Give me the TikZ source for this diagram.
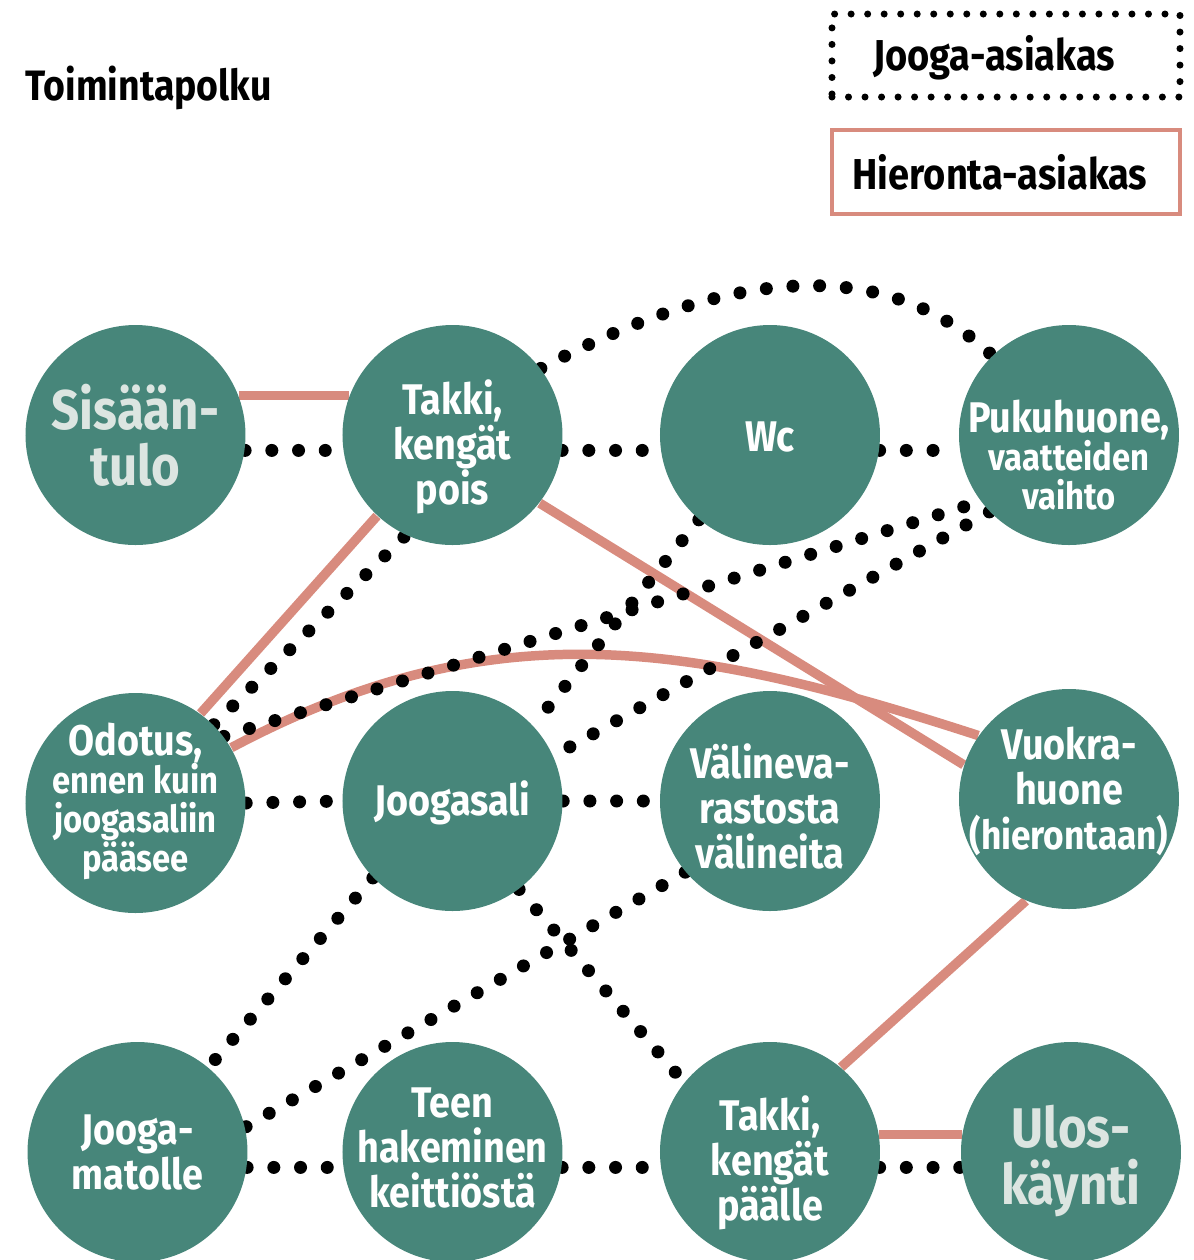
\documentclass[tikz,border=0pt]{standalone}
\usepackage{fontspec}
\setmainfont{Fira Sans}[FakeStretch=0.88]
\usetikzlibrary{backgrounds}

\newcommand{\smalltxt}{\fontsize{10.6}{11}\selectfont}

\begin{document}
\begin{tikzpicture}[
        place/.style={circle, fill=placecolor, minimum size=2.2cm, inner sep=0pt},
        placetext/.style={text=white, align=center, inner sep=0pt,
            font=\bfseries\fontsize{12.2}{12.8}\selectfont},
        tighttext/.style={placetext, font=\bfseries\fontsize{12.2}{11}\selectfont},
        bigtext/.style={placetext, text=palecolor, font=\bfseries\fontsize{15.9}{16}\selectfont},
        keytext/.style={inner sep=0pt, font=\bfseries\fontsize{12.3}{12.5}\selectfont},
        jooga/.style={line width=3.7pt, dash pattern=on 0pt off 7.6pt, line cap=round},
        hieronta/.style={line width=2.7pt, draw=salmoncolor},
    ]
    \definecolor{placecolor}{HTML}{47867A}
    \definecolor{salmoncolor}{HTML}{D88B7E}
    \definecolor{palecolor}{HTML}{DCE5E1}

    \useasboundingbox (0,0) rectangle (11.94,-12.60);

    % --- Title & legend ---
    \node[anchor=base west, inner sep=0pt, font=\bfseries\fontsize{12.1}{12}\selectfont] (title) at (0.25,-1.0) {Toimintapolku};
    \node[draw, line width=2pt, dash pattern=on 0pt off 4.7pt, line cap=round,
        minimum width=3.48cm, minimum height=0.83cm,
        label={[keytext, xshift=-0.12cm, yshift=-0.02cm]center:Jooga-asiakas}] (joogakey) at (10.06,-0.555) {};
    \node[draw=salmoncolor, line width=1.4pt, minimum width=3.48cm, minimum height=0.84cm,
        label={[keytext, xshift=-0.06cm]center:Hieronta-asiakas}] (hierontakey) at (10.06,-1.72) {};

    % --- Places (row 1) ---
    \node[place, label={[bigtext]center:{Sisään-\\tulo}}] (sis) at (1.355,-4.35) {};
    \node[place, label={[placetext, yshift=-0.12cm]center:{Takki,\\kengät\\pois}}] (takkipois) at (4.525,-4.35) {};
    \node[place, label={[placetext, yshift=-0.02cm]center:Wc}] (wc) at (7.70,-4.35) {};
    \node[place, label={[tighttext, yshift=-0.2cm]center:{Pukuhuone,\\\smalltxt vaatteiden\\\smalltxt vaihto}}] (puku) at (10.69,-4.35) {};

    % --- Places (row 2) ---
    \node[place, label={[tighttext, yshift=0.02cm]center:{Odotus,\\\smalltxt ennen kuin\\\smalltxt joogasaliin\\\smalltxt pääsee}}] (odotus) at (1.355,-8.03) {};
    \node[place, label={[placetext, yshift=-0.02cm]center:Joogasali}] (joogasali) at (4.525,-8.01) {};
    \node[place, label={[placetext, yshift=-0.05cm]center:{Välineva-\\rastosta\\välineita}}] (valine) at (7.70,-8.01) {};
    \node[place, label={[placetext, yshift=0.08cm]center:{Vuokra-\\huone\\\fontsize{11.4}{12.8}\selectfont(hierontaan)}}] (vuokra) at (10.69,-7.99) {};

    % --- Places (row 3) ---
    \node[place, label={[placetext]center:{Jooga-\\matolle}}] (matolle) at (1.375,-11.52) {};
    \node[place, label={[placetext, yshift=0.04cm]center:{Teen\\hakeminen\\keittiöstä}}] (teen) at (4.525,-11.52) {};
    \node[place, label={[placetext, yshift=-0.11cm]center:{Takki,\\kengät\\päälle}}] (takkipaalle) at (7.70,-11.52) {};
    \node[place, label={[bigtext, yshift=-0.09cm]center:{Ulos-\\käynti}}] (ulos) at (10.71,-11.52) {};

    \begin{pgfonlayer}{background}
        % Hieronta-asiakas
        \draw[hieronta] (sis.21) -- (takkipois.159);
        \draw[hieronta] (takkipois.227) -- (odotus.54);
        \draw[hieronta] (takkipois.-38) -- (vuokra.162);
        \draw[hieronta] (odotus.30) to[out=28, in=162, looseness=1.02] (vuokra.145);
        \draw[hieronta] (vuokra.247) -- (takkipaalle.50);
        \draw[hieronta] (takkipaalle.9) -- (ulos.171);

        % Jooga-asiakas
        \draw[jooga] (sis.-8) -- (takkipois.188);
        \draw[jooga] (takkipois.-8) -- (wc.188);
        \draw[jooga] (wc.-8) -- (puku.188);
        \draw[jooga] (takkipois.37) to[out=28, in=137, out looseness=1.27, in looseness=0.81] (puku.134);
        \draw[jooga] (odotus.45) -- (takkipois.245);
        \draw[jooga] (odotus.37) -- (puku.217);
        \draw[jooga] (wc.230) -- (joogasali.43);
        \draw[jooga] (puku.224) -- (joogasali.24);
        \draw[jooga] (odotus.0) -- (joogasali.180);
        \draw[jooga] (joogasali.0) -- (valine.180);
        \draw[jooga] (joogasali.224) -- (matolle.50);
        \draw[jooga] (valine.220) -- (matolle.13);
        \draw[jooga] (joogasali.-53) -- (takkipaalle.141);
        \draw[jooga] (matolle.-8) -- (teen.188);
        \draw[jooga] (teen.-8) -- (takkipaalle.188);
        \draw[jooga] (takkipaalle.-8) -- (ulos.188);
    \end{pgfonlayer}
\end{tikzpicture}
\end{document}
